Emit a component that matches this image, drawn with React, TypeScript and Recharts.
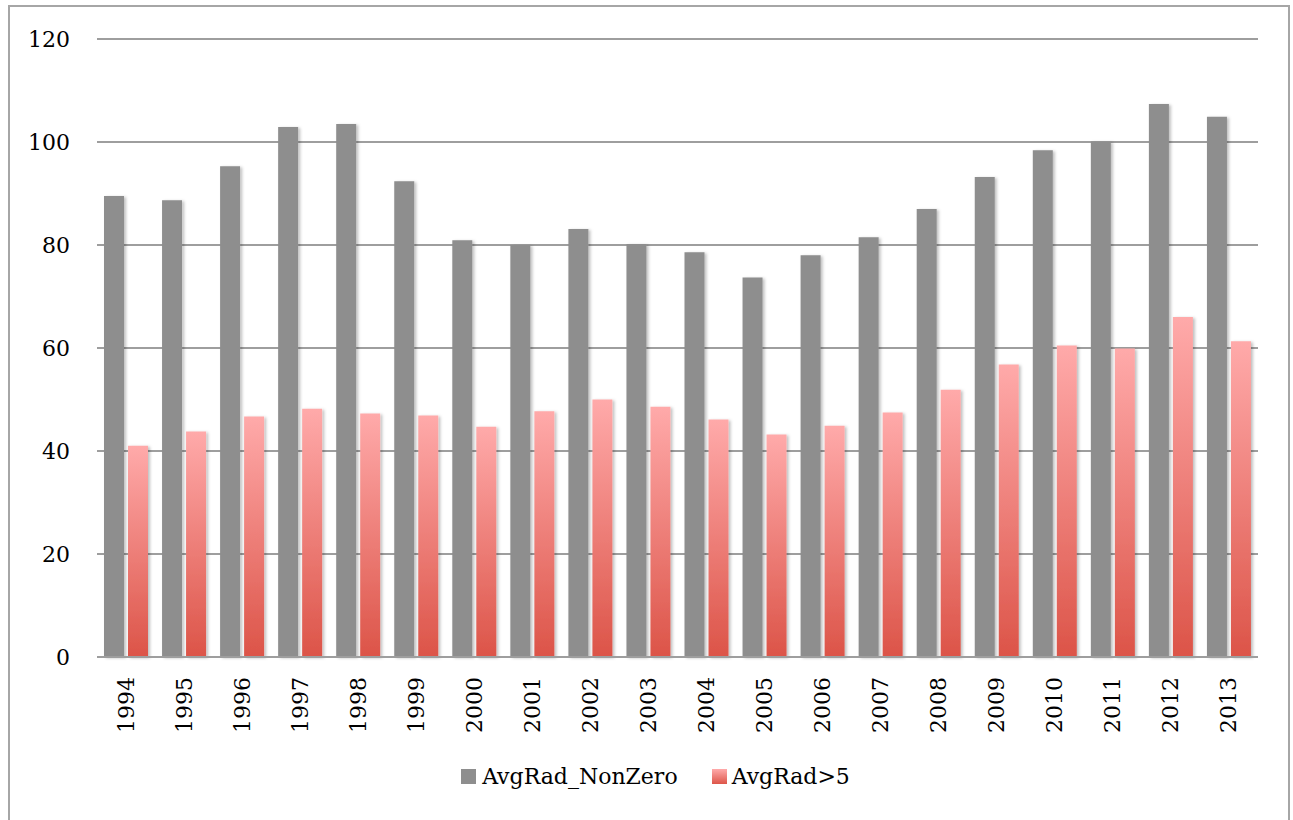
import React from "react";
import { BarChart, Bar, XAxis, YAxis, CartesianGrid, Legend } from "recharts";

const years = ["1994","1995","1996","1997","1998","1999","2000","2001","2002","2003","2004","2005","2006","2007","2008","2009","2010","2011","2012","2013"];
const avgRadNonZero = [89.5,88.7,95.3,102.9,103.5,92.4,80.9,80.0,83.1,80.2,78.6,73.7,78.0,81.5,87.0,93.2,98.4,100.1,107.4,104.9];
const avgRadGt5 = [41.0,43.8,46.7,48.2,47.3,46.9,44.7,47.7,50.0,48.6,46.1,43.2,44.9,47.5,51.9,56.8,60.5,59.9,66.0,61.3];
const yTicks = [0,20,40,60,80,100,120];
const seriesNames = ["AvgRad_NonZero", "AvgRad>5"];

const data = years.map((y, i) => ({ year: y, a: avgRadNonZero[i], b: avgRadGt5[i] }));

const FONT = "DejaVu Serif, serif";

const XTick = (props: any) => {
  const { x, y, payload } = props;
  return (
    <text
      x={0}
      y={0}
      transform={`translate(${x},${y}) rotate(-90)`}
      textAnchor="end"
      dominantBaseline="central"
      fontFamily={FONT}
      fontSize={22}
      fill="#000"
    >
      {payload.value}
    </text>
  );
};

const LegendContent = () => (
  <div style={{ display: "flex", justifyContent: "center", alignItems: "center", fontFamily: FONT, fontSize: 22, color: "#000", paddingLeft: 18 }}>
    <div style={{ display: "flex", alignItems: "center", marginRight: 34 }}>
      <div style={{ width: 15, height: 15, background: "#8e8e8e", marginRight: 6 }} />
      <span>{seriesNames[0]}</span>
    </div>
    <div style={{ display: "flex", alignItems: "center" }}>
      <div style={{ width: 15, height: 15, background: "linear-gradient(#ffaaaa, #dd5549)", marginRight: 5 }} />
      <span>{seriesNames[1]}</span>
    </div>
  </div>
);

export default function App() {
  return (
    <div style={{ position: "absolute", left: 0, top: 0, width: 1293, height: 820, background: "#fff" }}>
      <div style={{ position: "absolute", left: 8, top: 5, width: 1282, height: 830, border: "2px solid #a6a6a6", boxSizing: "border-box" }} />
      <div style={{ position: "absolute", left: 0, top: 0 }}>
        <BarChart
          width={1293}
          height={820}
          data={data}
          margin={{ top: 39, right: 35, bottom: 73, left: 7 }}
          barCategoryGap={7}
          barGap={4}
        >
          <defs>
            <linearGradient id="pinkGrad" x1="0" y1="0" x2="0" y2="1">
              <stop offset="0%" stopColor="#ffaaaa" />
              <stop offset="100%" stopColor="#dc5448" />
            </linearGradient>
            <filter id="shadow" x="-20%" y="-5%" width="160%" height="115%">
              <feDropShadow dx="2" dy="1" stdDeviation="1.5" floodColor="#000" floodOpacity="0.25" />
            </filter>
          </defs>
          <CartesianGrid vertical={false} stroke="#9e9e9e" strokeWidth={2} />
          <XAxis
            dataKey="year"
            tick={<XTick />}
            tickLine={false}
            axisLine={{ stroke: "#9e9e9e", strokeWidth: 2 }}
            height={90}
            tickMargin={14}
            interval={0}
          />
          <YAxis
            domain={[0, 120]}
            ticks={yTicks}
            tickLine={false}
            axisLine={false}
            width={90}
            tickSize={0}
            tickMargin={27}
            tick={{ fontFamily: FONT, fontSize: 22, fill: "#000" }}
          />
          <Legend
            verticalAlign="middle"
            align="center"
            layout="horizontal"
            content={<LegendContent />}
            wrapperStyle={{ top: 764, left: 0, width: 1293 }}
          />
          <Bar dataKey="a" name={seriesNames[0]} fill="#8e8e8e" isAnimationActive={false} filter="url(#shadow)" />
          <Bar dataKey="b" name={seriesNames[1]} fill="url(#pinkGrad)" isAnimationActive={false} filter="url(#shadow)" />
        </BarChart>
      </div>
    </div>
  );
}
